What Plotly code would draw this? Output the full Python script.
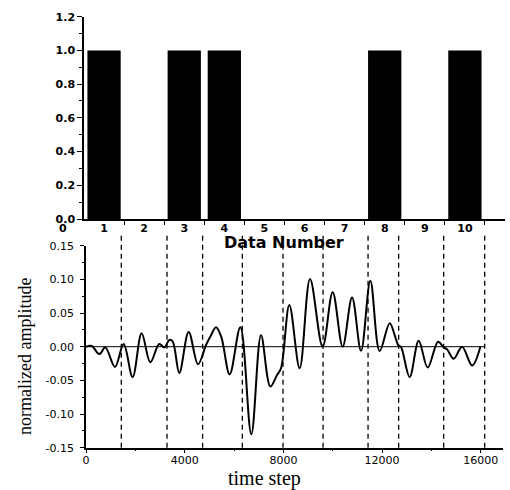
import plotly.graph_objects as go

# ---- data ----
data_numbers = [1, 2, 3, 4, 5, 6, 7, 8, 9, 10]
data_flags = [1, 0, 1, 1, 0, 0, 0, 1, 0, 1]

boundaries = [1431, 3283, 4726, 6336, 7985, 9607, 11431, 12671, 14495, 16157]

time_steps = [0, 230, 540, 782, 1175, 1525, 1890, 2255, 2607, 2970, 3175, 3377,
              3512, 3782, 4160, 4540, 4864, 5040, 5270, 5480, 5822, 6255, 6700,
              7093, 7470, 7742, 7904, 8241, 8659, 9080, 9591, 9997, 10401, 10782,
              11147, 11524, 11901, 12307, 12538, 12671, 12760, 13117, 13483,
              13847, 14268, 14496, 14633, 14901, 15241, 15647, 15983]
amplitude = [0.0, 0.001, -0.011, -0.001, -0.030, 0.004, -0.045, 0.020, -0.023,
             0.004, -0.001, 0.010, 0.008, -0.039, 0.022, -0.026, 0.0025, 0.015,
             0.029, 0.015, -0.041, 0.029, -0.130, 0.017, -0.059, -0.042, -0.032,
             0.062, -0.032, 0.1005, 0.0, 0.081, 0.0, 0.073, -0.006, 0.098,
             -0.0065, 0.035, 0.014, 0.001, 0.0, -0.045, 0.009, -0.031, 0.0075,
             -0.001, -0.004, -0.018, 0.0, -0.028, 0.0]

top_y_ticks = [0.0, 0.2, 0.4, 0.6, 0.8, 1.0, 1.2]
top_y_labels = ["0.0", "0.2", "0.4", "0.6", "0.8", "1.0", "1.2"]
bot_x_ticks = [0, 4000, 8000, 12000, 16000]
bot_x_labels = ["0", "4000", "8000", "12000", "16000"]
bot_y_ticks = [-0.15, -0.10, -0.05, 0.0, 0.05, 0.10, 0.15]
bot_y_labels = ["-0.15", "-0.10", "-0.05", "0.00", "0.05", "0.10", "0.15"]

W, H = 510, 490
def px(x):
    return x / W
def py(y):
    return (H - y) / H

fig = go.Figure()

fig.add_trace(go.Bar(x=data_numbers, y=data_flags, width=0.83,
                     marker=dict(color="black", line=dict(width=0)),
                     xaxis="x", yaxis="y", showlegend=False))

fig.add_trace(go.Scatter(x=[0, boundaries[-1]], y=[0, 0], mode="lines",
                         line=dict(color="black", width=1),
                         xaxis="x2", yaxis="y2", showlegend=False))

fig.add_trace(go.Scatter(x=time_steps, y=amplitude, mode="lines",
                         line=dict(color="black", width=2, shape="spline", smoothing=1.0),
                         xaxis="x2", yaxis="y2", showlegend=False))

shapes = []
for b in boundaries:
    shapes.append(dict(type="line", xref="x2", yref="paper", x0=b, x1=b,
                       y0=py(447.7), y1=py(234),
                       line=dict(color="black", width=1.3, dash="5px,4px")))

bold_tick = dict(family="DejaVu Sans", size=11, color="black", weight="bold")
reg_tick = dict(family="DejaVu Sans", size=11, color="black")

fig.update_layout(
    width=W, height=H,
    margin=dict(l=0, r=0, t=0, b=0),
    paper_bgcolor="white", plot_bgcolor="white",
    showlegend=False,
    xaxis=dict(domain=[px(84), px(505)], range=[0.5, 11], anchor="y",
               automargin=False,
               showline=True, linecolor="black", linewidth=1.5,
               showgrid=False, zeroline=False,
               tickmode="array", tickvals=data_numbers,
               ticktext=[str(d) for d in data_numbers],
               ticks="", tickfont=bold_tick, ticklabelstandoff=-2,
               minor=dict(ticks="outside", tickmode="array",
                          tickvals=[d + 0.5 for d in data_numbers],
                          ticklen=4, tickwidth=1.2, tickcolor="black",
                          showgrid=False)),
    yaxis=dict(domain=[py(219), py(16.7)], range=[0, 1.2], anchor="x",
               automargin=False,
               showline=True, linecolor="black", linewidth=1.5,
               showgrid=False, zeroline=False,
               tickmode="array", tickvals=top_y_ticks, ticktext=top_y_labels,
               ticks="outside", ticklen=5, tickwidth=1.2, tickcolor="black",
               tickfont=bold_tick,
               minor=dict(ticks="outside", dtick=0.1, ticklen=3, tickwidth=1.2,
                          tickcolor="black", showgrid=False)),
    xaxis2=dict(domain=[px(86), px(503)], range=[0, 16900], anchor="y2",
                automargin=False,
                showline=True, linecolor="black", linewidth=1.5,
                showgrid=False, zeroline=False,
                tickmode="array", tickvals=bot_x_ticks, ticktext=bot_x_labels,
                ticks="outside", ticklen=4, tickwidth=1.2, tickcolor="black",
                tickfont=reg_tick, ticklabelstandoff=-3,
                minor=dict(ticks="outside", dtick=2000, ticklen=2, tickwidth=1.2,
                           tickcolor="black", showgrid=False)),
    yaxis2=dict(domain=[py(447.7), py(245.7)], range=[-0.15, 0.15], anchor="x2",
                automargin=False,
                showline=True, linecolor="black", linewidth=1.5,
                showgrid=False, zeroline=False,
                tickmode="array", tickvals=bot_y_ticks, ticktext=bot_y_labels,
                ticks="outside", ticklen=4, tickwidth=1.2, tickcolor="black",
                tickfont=reg_tick, ticklabelstandoff=4,
                minor=dict(ticks="outside", dtick=0.025, ticklen=2, tickwidth=1.2,
                           tickcolor="black", showgrid=False)),
    shapes=shapes,
    annotations=[
        dict(text="0", x=px(63), y=py(228), xref="paper", yref="paper", showarrow=False,
             yanchor="middle", xanchor="center", font=bold_tick, borderpad=0),
        dict(text="Data Number", x=px(284), y=py(243), xref="paper", yref="paper",
             showarrow=False, xanchor="center", yanchor="middle", borderpad=0,
             font=dict(family="DejaVu Sans", size=16, color="black", weight="bold")),
        dict(text="time step", x=px(264.5), y=py(478), xref="paper", yref="paper",
             showarrow=False, xanchor="center", yanchor="middle",
             font=dict(family="Liberation Serif", size=20, color="black")),
        dict(text="normalized amplitude", x=px(25), y=py(357), xref="paper", yref="paper",
             showarrow=False, xanchor="center", yanchor="middle", textangle=-90,
             font=dict(family="Liberation Serif", size=18, color="black")),
    ],
)

fig.write_html("out.html", config={"displayModeBar": False},
               post_script="document.body.style.margin='0';document.body.style.overflow='hidden';")
